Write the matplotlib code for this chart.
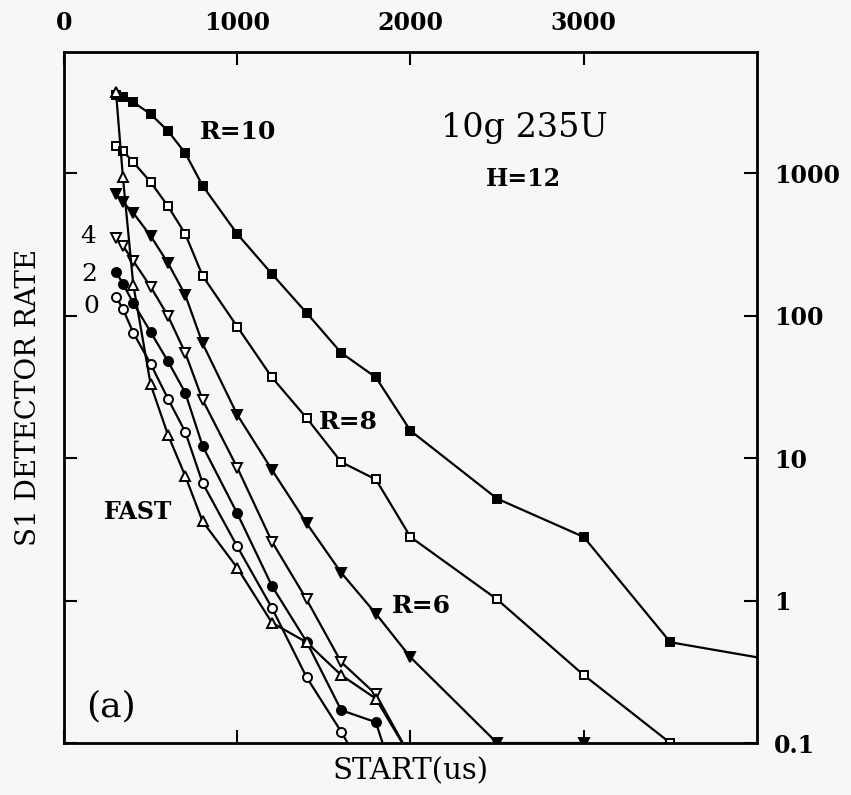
import matplotlib
matplotlib.use("Agg")
import matplotlib.pyplot as plt
from matplotlib.ticker import FixedLocator, FuncFormatter, NullLocator

# ── data ────────────────────────────────────────────────────────────────────
x_r10 = [300, 340, 400, 500, 600, 700, 800, 1000, 1200, 1400, 1600, 1800, 2000, 2500, 3000, 3500, 4000]
y_r10 = [3550, 3450, 3170, 2610, 1990, 1390, 820, 376, 197, 105, 55, 37, 15.6, 5.2, 2.8, 0.51, 0.40]

x_r8 = [300, 340, 400, 500, 600, 700, 800, 1000, 1200, 1400, 1600, 1800, 2000, 2500, 3000, 3500]
y_r8 = [1560, 1440, 1200, 870, 590, 376, 191, 84, 37, 19.2, 9.4, 7.1, 2.8, 1.02, 0.30, 0.10]

x_r6 = [300, 340, 400, 500, 600, 700, 800, 1000, 1200, 1400, 1600, 1800, 2000, 2500, 3000]
y_r6 = [720, 630, 528, 364, 235, 140, 64, 20.2, 8.3, 3.5, 1.57, 0.81, 0.40, 0.10, 0.10]

x_r4 = [300, 340, 400, 500, 600, 700, 800, 1000, 1200, 1400, 1600, 1800, 2000]
y_r4 = [353, 310, 243, 160, 100, 55, 25.7, 8.6, 2.6, 1.02, 0.37, 0.22, 0.08]

x_r2 = [300, 340, 400, 500, 600, 700, 800, 1000, 1200, 1400, 1600, 1800, 2000]
y_r2 = [204, 168, 123, 77, 48, 28.8, 12.2, 4.1, 1.27, 0.515, 0.17, 0.14, 0.025]

x_r0 = [300, 340, 400, 500, 600, 700, 800, 1000, 1200, 1400, 1600, 1800]
y_r0 = [136, 112, 76, 46, 26.2, 15.3, 6.7, 2.4, 0.89, 0.29, 0.12, 0.045]

x_fast = [300, 340, 400, 500, 600, 700, 800, 1000, 1200, 1400, 1600, 1800, 2000]
y_fast = [3750, 945, 165, 33, 14.6, 7.5, 3.6, 1.7, 0.70, 0.51, 0.30, 0.205, 0.08]

x_ticks = [0, 1000, 2000, 3000]
y_ticks = [0.1, 1, 10, 100, 1000]

serif = 'DejaVu Serif'

# ── figure ──────────────────────────────────────────────────────────────────
fig = plt.figure(figsize=(8.51, 7.95), dpi=100)
fig.patch.set_facecolor('#f7f7f7')
ax = fig.add_axes([0.0752, 0.0654, 0.8143, 0.8692])
ax.set_facecolor('#f7f7f7')

common = dict(color='black', linewidth=1.6, markeredgewidth=1.4)

ax.plot(x_r10, y_r10, marker='s', markersize=5.5, markerfacecolor='black',
        markevery=slice(0, -1), **common)
ax.plot(x_r8, y_r8, marker='s', markersize=6, markerfacecolor='white', **common)
ax.plot(x_r6, y_r6, marker='v', markersize=6.5, markerfacecolor='black', **common)
ax.plot(x_r4, y_r4, marker='v', markersize=6.5, markerfacecolor='white', **common)
ax.plot(x_r2, y_r2, marker='o', markersize=6.5, markerfacecolor='black', **common)
ax.plot(x_r0, y_r0, marker='o', markersize=6.5, markerfacecolor='white', **common)
ax.plot(x_fast, y_fast, marker='^', markersize=6.5, markerfacecolor='white', **common)

# ── axes ────────────────────────────────────────────────────────────────────
ax.set_yscale('log')
ax.set_xlim(0, 4000)
ax.set_ylim(0.1, 10 ** 3.853)

ax.xaxis.set_major_locator(FixedLocator(x_ticks))
ax.yaxis.set_major_locator(FixedLocator(y_ticks))
ax.yaxis.set_minor_locator(NullLocator())
ax.xaxis.set_minor_locator(NullLocator())
ax.yaxis.set_major_formatter(FuncFormatter(lambda v, p: f"{v:g}"))

ax.tick_params(axis='both', which='major', direction='in', length=9.5, width=1.5,
               top=True, bottom=True, left=True, right=True,
               labeltop=True, labelbottom=False, labelleft=False, labelright=True,
               labelsize=17)
ax.tick_params(axis='y', pad=12)
ax.tick_params(axis='x', pad=12)
for lab in ax.get_xticklabels() + ax.get_yticklabels():
    lab.set_fontfamily(serif)
    lab.set_fontweight('bold')
for sp in ax.spines.values():
    sp.set_linewidth(2)

ax.set_xlabel('START(us)', fontsize=21, family=serif, labelpad=10)
ax.set_ylabel('S1 DETECTOR RATE', fontsize=20, family=serif, labelpad=16)

# ── annotations ─────────────────────────────────────────────────────────────
def label(x, y, s, size=17, weight='bold'):
    ax.text(x, y, s, fontsize=size, family=serif, fontweight=weight,
            ha='center', va='center')

label(1006, 1955, 'R=10', size=18)
label(2660, 2085, '10g 235U', size=24, weight='normal')
label(2650, 915, 'H=12', size=17)
label(1640, 18, 'R=8', size=18)
label(2064, 0.91, 'R=6', size=18)
label(428, 4.2, 'FAST', size=17)
label(139, 358, '4', size=18, weight='normal')
label(145, 194, '2', size=18, weight='normal')
label(156, 116, '0', size=18, weight='normal')
label(272, 0.18, '(a)', size=26, weight='normal')

fig.savefig('out.png', dpi=100, facecolor=fig.get_facecolor())
